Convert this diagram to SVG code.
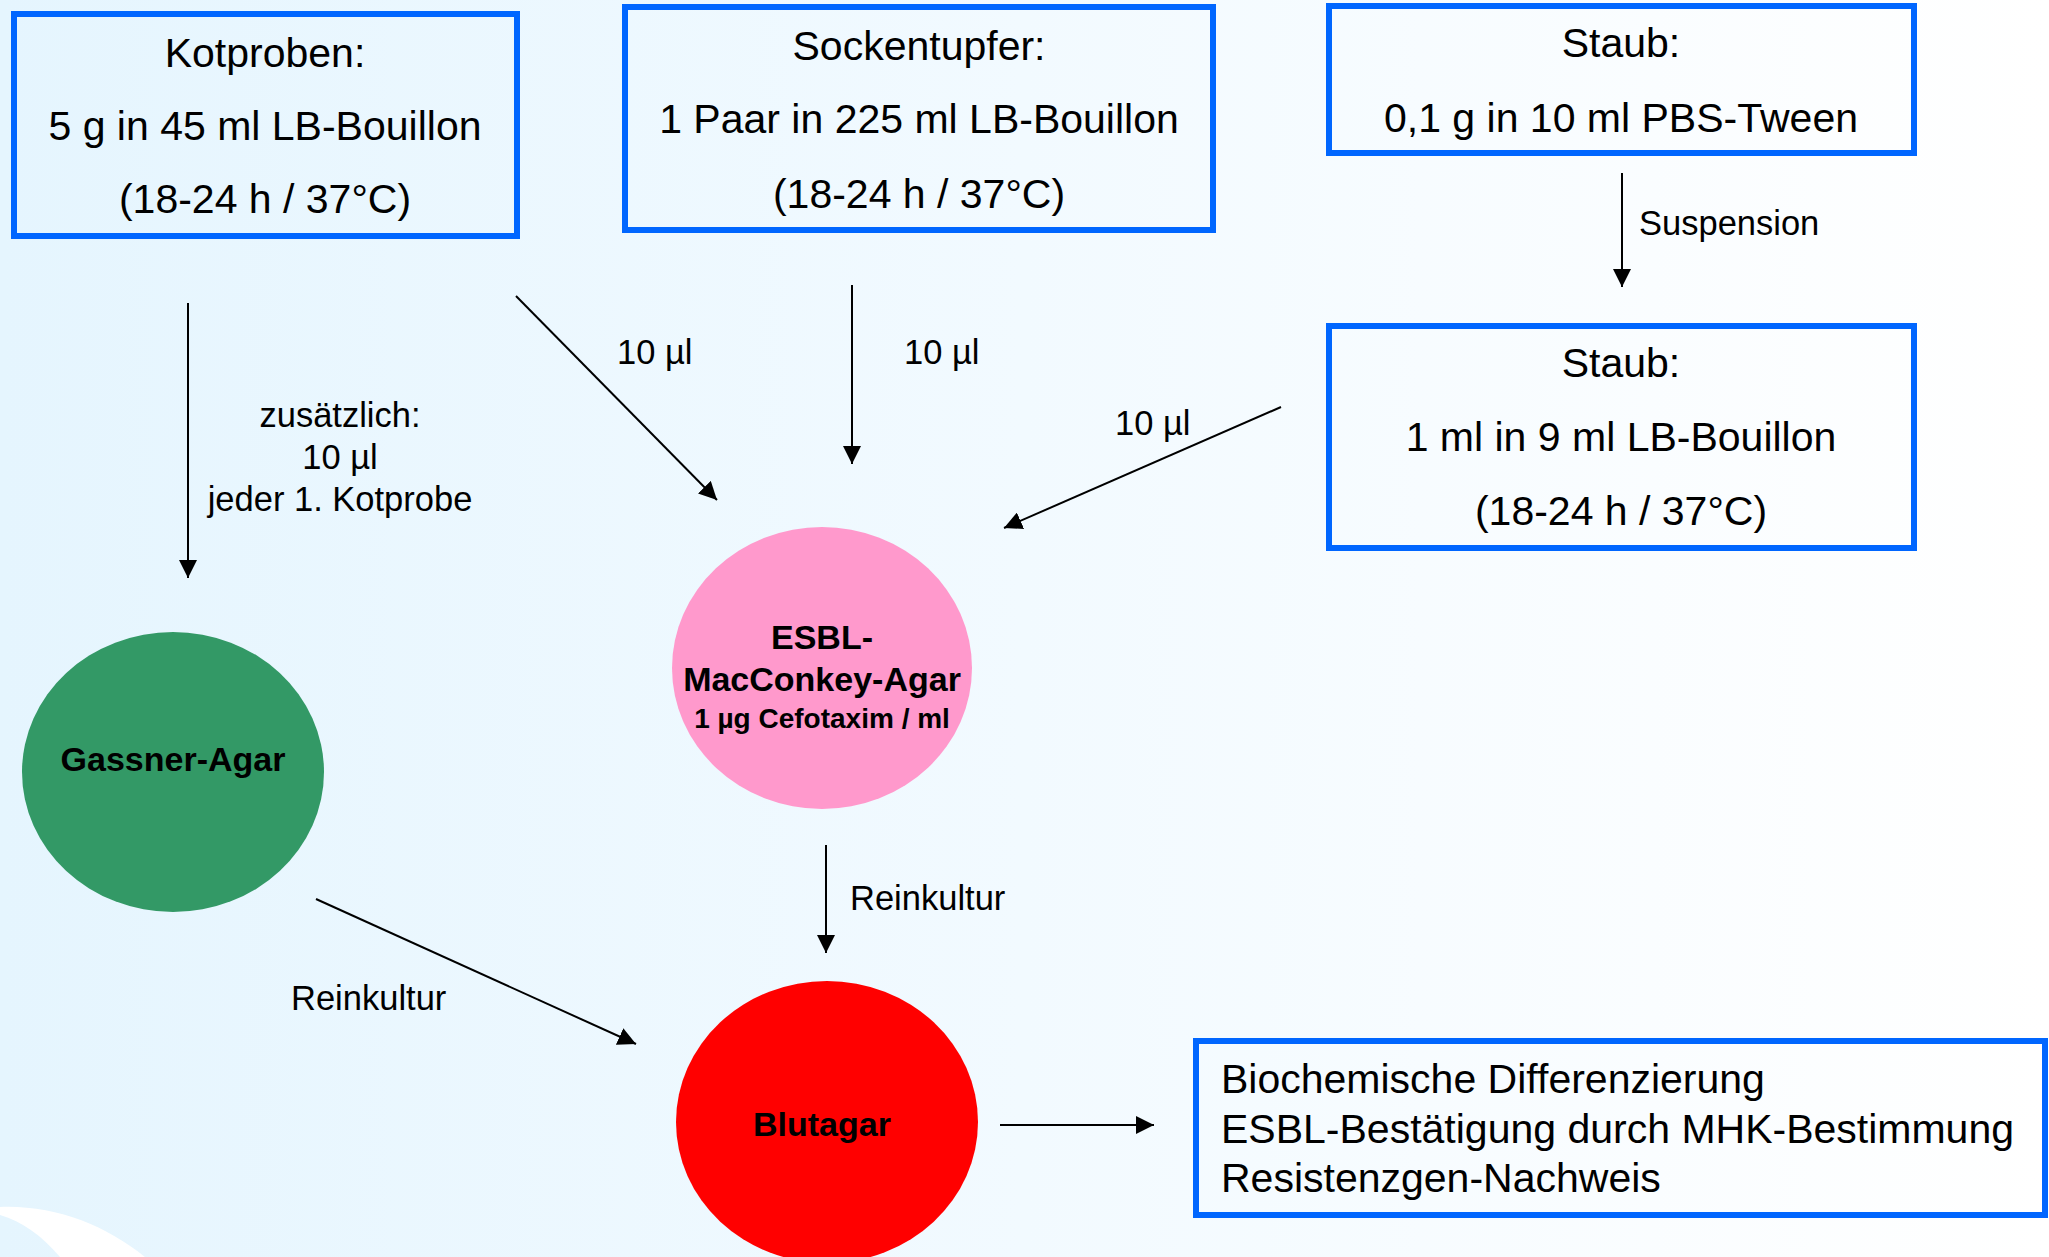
<svg xmlns="http://www.w3.org/2000/svg" width="2049" height="1257" viewBox="0 0 2049 1257">
<defs>
<linearGradient id="bg" x1="0" y1="0" x2="1" y2="0">
<stop offset="0" stop-color="#E5F5FE"/>
<stop offset="0.5" stop-color="#F2FAFF"/>
<stop offset="1" stop-color="#FFFFFF"/>
</linearGradient>
<marker id="ah" markerUnits="userSpaceOnUse" markerWidth="18" markerHeight="18" refX="18" refY="9" orient="auto">
<path d="M0,0 L18,9 L0,18 Z" fill="#000"/>
</marker>
<style>
.box{fill:none;stroke:#0066FF;stroke-width:6}
.big{font-family:"Liberation Sans",Arial,sans-serif;font-size:41px;fill:#000}
.lbl{font-family:"Liberation Sans",Arial,sans-serif;font-size:34.5px;fill:#000}
.bold{font-family:"Liberation Sans",Arial,sans-serif;font-weight:bold;font-size:34px;fill:#000}
.sm{font-family:"Liberation Sans",Arial,sans-serif;font-weight:bold;font-size:28px;fill:#000}
.c{text-anchor:middle}
.con line{stroke:#000;stroke-width:2;marker-end:url(#ah)}
</style>
</defs>
<rect x="0" y="0" width="2049" height="1257" fill="url(#bg)"/>
<path d="M0,1207 C55,1205 105,1225 145,1257 L60,1257 C42,1236 22,1221 0,1215 Z" fill="#FFFFFF"/>

<g id="kotproben">
<rect class="box" x="14" y="14" width="503" height="222"/>
<text class="big c" x="265" y="67">Kotproben:</text>
<text class="big c" x="265" y="140">5 g in 45 ml LB-Bouillon</text>
<text class="big c" x="265" y="213">(18-24 h / 37°C)</text>
</g>

<g id="sockentupfer">
<rect class="box" x="625" y="7" width="588" height="223"/>
<text class="big c" x="919" y="60">Sockentupfer:</text>
<text class="big c" x="919" y="133">1 Paar in 225 ml LB-Bouillon</text>
<text class="big c" x="919" y="208">(18-24 h / 37°C)</text>
</g>

<g id="staub1">
<rect class="box" x="1329" y="6" width="585" height="147"/>
<text class="big c" x="1621" y="57">Staub:</text>
<text class="big c" x="1621" y="132">0,1 g in 10 ml PBS-Tween</text>
</g>

<g id="staub2">
<rect class="box" x="1329" y="326" width="585" height="222"/>
<text class="big c" x="1621" y="377">Staub:</text>
<text class="big c" x="1621" y="451">1 ml in 9 ml LB-Bouillon</text>
<text class="big c" x="1621" y="525">(18-24 h / 37°C)</text>
</g>

<g id="gassner">
<ellipse cx="173" cy="772" rx="151" ry="140" fill="#339966"/>
<text class="bold c" x="173" y="771">Gassner-Agar</text>
</g>

<g id="esbl">
<ellipse cx="822" cy="668" rx="150" ry="141" fill="#FF99CC"/>
<text class="bold c" x="822" y="649">ESBL-</text>
<text class="bold c" x="822" y="691">MacConkey-Agar</text>
<text class="sm c" x="822" y="728">1 µg Cefotaxim / ml</text>
</g>

<g id="blutagar">
<ellipse cx="827" cy="1122" rx="151" ry="141" fill="#FF0000"/>
<text class="bold c" x="822" y="1136">Blutagar</text>
</g>

<g id="ergebnis">
<rect class="box" x="1196" y="1041" width="849" height="174"/>
<text class="big" x="1221" y="1093">Biochemische Differenzierung</text>
<text class="big" x="1221" y="1143">ESBL-Bestätigung durch MHK-Bestimmung</text>
<text class="big" x="1221" y="1192">Resistenzgen-Nachweis</text>
</g>

<g id="connectors" class="con">
<line x1="188" y1="303" x2="188" y2="578"/>
<line x1="516" y1="296" x2="717" y2="500"/>
<line x1="852" y1="285" x2="852" y2="464"/>
<line x1="1622" y1="173" x2="1622" y2="287"/>
<line x1="1281" y1="407" x2="1004" y2="528"/>
<line x1="826" y1="845" x2="826" y2="953"/>
<line x1="316" y1="899" x2="636" y2="1044"/>
<line x1="1000" y1="1125" x2="1154" y2="1125"/>
<text class="lbl c" x="340" y="427">zusätzlich:</text>
<text class="lbl c" x="340" y="469">10 µl</text>
<text class="lbl c" x="340" y="511">jeder 1. Kotprobe</text>
<text class="lbl" x="617" y="364">10 µl</text>
<text class="lbl" x="904" y="364">10 µl</text>
<text class="lbl" x="1115" y="435">10 µl</text>
<text class="lbl" x="1639" y="235">Suspension</text>
<text class="lbl" x="850" y="910">Reinkultur</text>
<text class="lbl" x="291" y="1010">Reinkultur</text>
</g>
</svg>
